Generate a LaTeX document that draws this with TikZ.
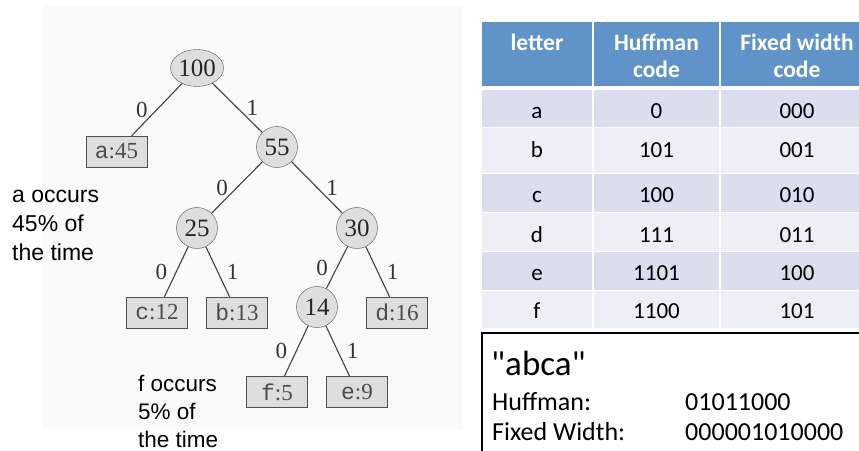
\documentclass[tikz,border=0pt]{standalone}
\usepackage{fontspec}
\setmainfont{Liberation Serif}
\setmonofont{Liberation Mono}
\newfontfamily\calibri{Carlito}
\newfontfamily\arial{Liberation Sans}
\usepackage{xcolor}
\usetikzlibrary{shapes.geometric}
\definecolor{treebg}{RGB}{250,250,250}
\definecolor{nodefill}{RGB}{222,222,222}
\definecolor{nodeline}{RGB}{80,80,80}
\definecolor{headblue}{RGB}{96,148,201}
\definecolor{rowdark}{RGB}{217,223,236}
\definecolor{rowlight}{RGB}{236,239,245}

\begin{document}
\begin{tikzpicture}[x=1pt,y=-1pt,
  inode/.style={circle,draw=nodeline,fill=nodefill,minimum size=41pt,inner sep=0pt,
    text=black!85,font=\fontsize{25}{30}\selectfont},
  leaf/.style={rectangle,draw=nodeline,fill=nodefill,minimum width=61pt,minimum height=31pt,
    inner sep=0pt,text=black!70,font=\fontsize{23}{28}\selectfont},
  edge/.style={draw=black!75,line width=1.1pt},
  zero/.style={midway,xshift=-15pt,text=black!80,font=\fontsize{23}{28}\selectfont},
  one/.style={midway,xshift=15pt,text=black!80,font=\fontsize{23}{28}\selectfont},
  note/.style={anchor=base west,align=left,inner sep=0pt,font=\arial\fontsize{23}{29}\selectfont},
  head/.style={anchor=base,inner sep=0pt,text=white,font=\calibri\bfseries\fontsize{23.5}{27}\selectfont},
  cell/.style={anchor=base,inner sep=0pt,font=\calibri\fontsize{23}{27}\selectfont},
  enc/.style={anchor=base west,inner sep=0pt,font=\calibri\fontsize{26}{30}\selectfont}]
  \useasboundingbox (0,0) rectangle (859,450);
  \clip (0,0) rectangle (859,450);
  \fill[white] (0,0) rectangle (859,450);
  \fill[treebg] (42,5) rectangle (463,429);

  \node[inode,ellipse,minimum width=50pt,minimum height=37pt] (n100) at (197,68) {100};
  \node[leaf] (a45) at (116.5,151.5) {\texttt{a}:45};
  \node[inode] (n55) at (277,147) {55};
  \node[inode] (n25) at (197,228) {25};
  \node[inode] (n30) at (357,228) {30};
  \node[leaf] (c12) at (157,312.5) {\texttt{c}:12};
  \node[leaf] (b13) at (237,312.5) {\texttt{b}:13};
  \node[inode] (n14) at (317,307) {14};
  \node[leaf] (d16) at (397,312.5) {\texttt{d}:16};
  \node[leaf] (f5) at (277,392) {\texttt{f}:5};
  \node[leaf] (e9) at (357,392) {\texttt{e}:9};

  \draw[edge] (n100) -- node[zero]{0} (a45);
  \draw[edge] (n100) -- node[one]{1} (n55);
  \draw[edge] (n55) -- node[zero]{0} (n25);
  \draw[edge] (n55) -- node[one]{1} (n30);
  \draw[edge] (n25) -- node[zero]{0} (c12);
  \draw[edge] (n25) -- node[one]{1} (b13);
  \draw[edge] (n30) -- node[zero]{0} (n14);
  \draw[edge] (n30) -- node[one]{1} (d16);
  \draw[edge] (n14) -- node[zero]{0} (f5);
  \draw[edge] (n14) -- node[one]{1} (e9);

  \node[note] (anote) at (12,260) {a occurs\\45\% of\\the time};
  \node[note,font=\arial\fontsize{22.5}{28}\selectfont] (fnote) at (138,447) {f occurs\\5\% of\\the time};

  \fill[headblue] (482,22) rectangle (592,86);
  \fill[headblue] (594,22) rectangle (719,86);
  \fill[headblue] (721,22) rectangle (875,86);
  \node[head] (hletter) at (537,50) {letter};
  \node[head] (hhuff) at (656.5,50) {Huffman};
  \node[head] (hhuff2) at (656.5,77) {code};
  \node[head] (hfix) at (797,50) {Fixed width};
  \node[head] (hfix2) at (797,77) {code};

  \foreach \ya/\yb/\yt/\ch/\huf/\fix/\shade in {
      90/127/118/a/0/000/rowdark,
      128/173/157/b/101/001/rowlight,
      174/212/202/c/100/010/rowdark,
      213/251/242/d/111/011/rowlight,
      252/290/280/e/1101/100/rowdark,
      291/328/318/f/1100/101/rowlight}{
    \fill[\shade] (482,\ya) rectangle (592,\yb);
    \fill[\shade] (594,\ya) rectangle (719,\yb);
    \fill[\shade] (721,\ya) rectangle (875,\yb);
    \node[cell] (let-\ch) at (537,\yt) {\ch};
    \node[cell] (huf-\ch) at (656.5,\yt) {\huf};
    \node[cell] (fix-\ch) at (797,\yt) {\fix};
  }

  \draw[line width=2pt] (482,333) rectangle (900,480);
  \node[enc,font=\calibri\fontsize{35}{40}\selectfont] (word) at (491,375) {"abca"};
  \node[enc] (hlabel) at (492,410) {Huffman:};
  \node[enc] (hbits) at (685,410) {01011000};
  \node[enc] (flabel) at (492,440) {Fixed Width:};
  \node[enc] (fbits) at (685,440) {000001010000};
\end{tikzpicture}
\end{document}
